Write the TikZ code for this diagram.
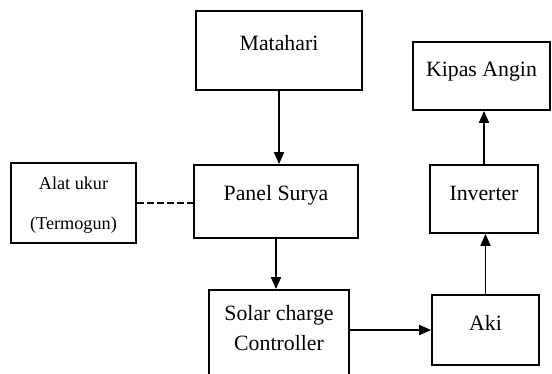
\documentclass[tikz,border=0pt]{standalone}
\usepackage{fontspec}
\setmainfont{Liberation Serif}
\usetikzlibrary{arrows.meta}

\begin{document}
\begin{tikzpicture}[x=0.5pt, y=-0.5pt, >={Triangle[length=6pt, width=5pt]},
    kotak/.style={draw, line width=0.9pt, inner sep=0pt},
    teks/.style={font=\fontsize{10.9}{15}\selectfont, align=center},
    kecil/.style={font=\fontsize{9.1}{20}\selectfont, align=center},
    garis/.style={line width=0.9pt}]
    \useasboundingbox (0, 0) rectangle (552, 374);

    % kotak-kotak
    \node[kotak, minimum width=83pt, minimum height=39.5pt,
      label={[teks, yshift=3.75pt]center:Matahari}] (mth) at (279, 50.5) {};
    \node[kotak, minimum width=82pt, minimum height=36.5pt,
      label={[teks, yshift=3.25pt]center:Panel Surya}] (pnl) at (276, 201.5) {};
    \node[kotak, minimum width=62.5pt, minimum height=40pt,
      label={[kecil, yshift=-1pt]center:Alat ukur\\(Termogun)}] (alt) at (73.5, 203) {};
    \node[kotak, minimum width=70pt, minimum height=52pt,
      label={[teks, yshift=7pt]center:Solar charge\\Controller}] (scc) at (279, 342) {};
    \node[kotak, minimum width=53.5pt, minimum height=35pt,
      label={[teks, yshift=3.75pt]center:Aki}] (aki) at (485.5, 330) {};
    \node[kotak, minimum width=54pt, minimum height=34pt,
      label={[teks, yshift=3pt]center:Inverter}] (inv) at (484, 199) {};
    \node[kotak, minimum width=68.5pt, minimum height=34pt,
      label={[teks, yshift=2pt]center:Kipas Angin}] (kps) at (481.5, 76) {};

    % panah
    \begin{scope}[garis, ->]
      \draw (mth.south) -- (mth.south |- pnl.north);
      \draw (pnl.south) -- (pnl.south |- scc.north);
      \draw (scc.east |- aki.west) -- (aki.west);
      \draw (aki.north) -- (aki.north |- inv.south);
      \draw (inv.north) -- (inv.north |- kps.south);
    \end{scope}
    \draw[line width=0.6pt, dash pattern=on 3.5pt off 1.5pt] (alt.east) -- (alt.east -| pnl.west);
  \end{tikzpicture}
\end{document}
